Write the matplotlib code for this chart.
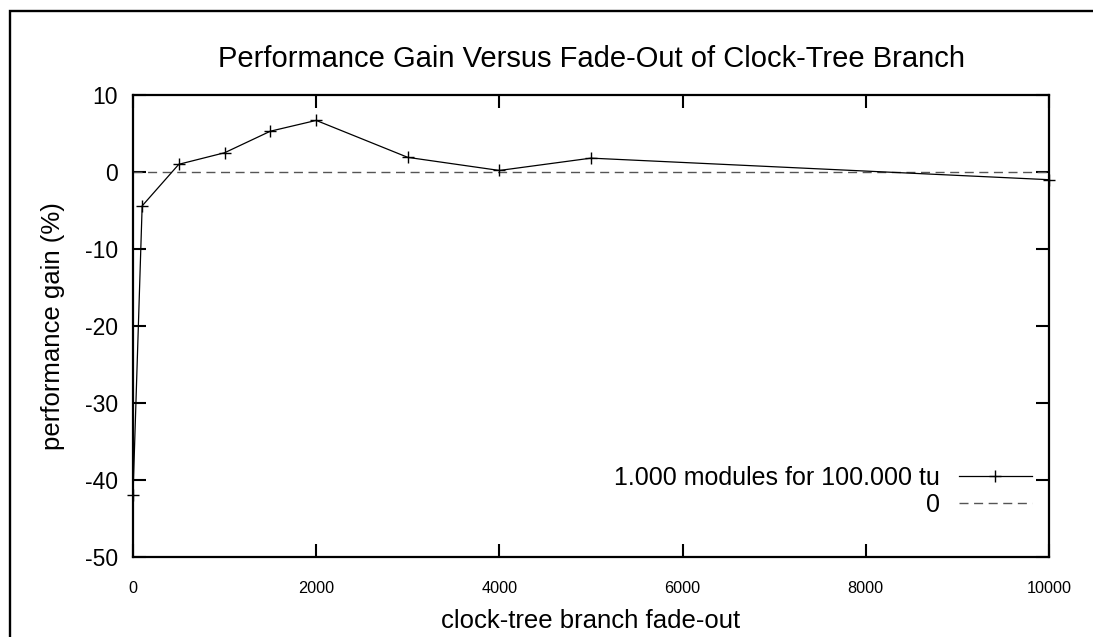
"""Performance gain versus fade-out of a clock-tree branch (gnuplot-style line chart)."""
import matplotlib

matplotlib.use("Agg")
import matplotlib.pyplot as plt
from matplotlib.patches import Rectangle

FADE_OUT = [0, 100, 500, 1000, 1500, 2000, 3000, 4000, 5000, 10000]
GAIN = [-42.0, -4.4, 1.0, 2.5, 5.3, 6.7, 1.9, 0.2, 1.8, -1.0]
SERIES_LABEL = "1.000 modules for 100.000 tu"

ZERO_LEVEL = 0
ZERO_LABEL = "0"

X_TICKS = [0, 2000, 4000, 6000, 8000, 10000]
Y_TICKS = [-50, -40, -30, -20, -10, 0, 10]

TITLE = "Performance Gain Versus Fade-Out of Clock-Tree Branch"
X_LABEL = "clock-tree branch fade-out"
Y_LABEL = "performance gain (%)"

plt.rcParams["font.family"] = ["Liberation Sans", "DejaVu Sans"]
plt.rcParams["axes.unicode_minus"] = False

W, H, DPI = 1093, 637, 100
fig = plt.figure(figsize=(W / DPI, H / DPI), dpi=DPI)

# outer frame, cut off at the right and bottom edges like the original export
fig.patches.append(
    Rectangle((9.5 / W, -0.2), 1.5, 1 - 10.5 / H + 0.2, transform=fig.transFigure,
              fill=False, edgecolor="black", linewidth=1.7, zorder=0)
)

ax = fig.add_axes([133 / W, 1 - 557 / H, (1049 - 133) / W, (557 - 95) / H])

data_line, = ax.plot(FADE_OUT, GAIN, color="black", linewidth=0.9, marker="+",
                     markersize=9, markeredgewidth=1.0, clip_on=False, zorder=3)
zero_line = ax.axhline(ZERO_LEVEL, color="#555555", linewidth=1.0, dashes=(6.5, 4.0),
                       zorder=2)

ax.set_xlim(0, 10000)
ax.set_ylim(-50, 10)
ax.set_xticks(X_TICKS)
ax.set_yticks(Y_TICKS)

for side in ax.spines.values():
    side.set_linewidth(1.6)
ax.tick_params(direction="in", length=9.5, width=1.5, top=True, right=True)
ax.tick_params(axis="y", labelsize=16.5, pad=11)
ax.tick_params(axis="x", labelsize=11.7, pad=17)

ax.set_title(TITLE, fontsize=21, pad=20)
ax.set_xlabel(X_LABEL, fontsize=18.5, labelpad=10)
ax.set_ylabel(Y_LABEL, fontsize=18.5, labelpad=14)

# gnuplot key: right-aligned text left of the sample, one legend per row
key_style = dict(loc="lower right", borderaxespad=0, borderpad=0, frameon=False,
                 fontsize=18, markerfirst=False, handlelength=2.9, handletextpad=0.75)
key_top = ax.legend([data_line], [SERIES_LABEL], bbox_to_anchor=(0.981, 0.145), **key_style)
ax.add_artist(key_top)
ax.legend([zero_line], [ZERO_LABEL], bbox_to_anchor=(0.981, 0.087), **key_style)

fig.savefig("out.png", dpi=DPI)
